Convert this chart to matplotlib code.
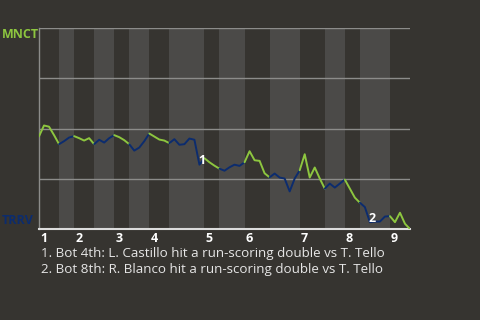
import matplotlib
matplotlib.use("Agg")
import matplotlib.pyplot as plt
import matplotlib.transforms as mtransforms

# ---- data ----
# MNCT win probability (%) after each play
win_prob = [46.1, 51.5, 50.9, 46.7, 42.2, 43.7, 45.5, 46.2, 45.2, 44.0,
            45.2, 42.2, 44.4, 43.0, 45.2, 46.7, 45.7, 44.2, 42.2, 39.0,
            40.5, 43.7, 47.5, 46.0, 44.5, 44.0, 42.7, 44.7, 41.9, 42.2,
            45.0, 44.4, 32.0, 35.2, 33.2, 31.5, 30.0, 29.0, 30.7, 32.0,
            31.4, 33.2, 38.7, 34.2, 33.9, 27.7, 25.7, 27.6, 25.6, 25.1,
            18.7, 25.1, 29.2, 37.2, 25.6, 30.6, 25.1, 20.1, 22.6, 20.6,
            22.6, 24.6, 20.1, 15.6, 13.1, 10.9, 3.4, 3.7, 3.7, 6.2,
            6.4, 3.4, 8.1, 2.6, 0.0]
# play index where each half inning starts (top 1st ... top 9th) plus end
half_starts = [0, 4, 7, 11, 15, 18, 22, 26, 33, 36, 41, 46, 52, 57, 61, 64, 70, 74]
inning_labels = ["1", "2", "3", "4", "5", "6", "7", "8", "9"]
away_team = "MNCT"
home_team = "TRRV"
notes = ["1. Bot 4th: L. Castillo hit a run-scoring double vs T. Tello",
         "2. Bot 8th: R. Blanco hit a run-scoring double vs T. Tello"]
note_plays = [32, 66]
note_marks = ["1", "2"]

BG = "#363430"
BAND = "#4b4a48"
GREEN = "#8dc63f"
BLUE = "#0c2c6e"
GRID = "#8c8c8a"

plt.rcParams['font.family'] = ['Open Sans', 'DejaVu Sans']

fig = plt.figure(figsize=(4.8, 3.2), dpi=100, facecolor=BG)
ax = fig.add_axes([39/480, 91/320, 371/480, 201/320])
ax.set_facecolor(BG)
n_last = len(win_prob) - 1
ax.set_xlim(0, n_last)
ax.set_ylim(0, 100)

# bottom-half shading
for i in range(1, len(half_starts) - 1, 2):
    ax.axvspan(half_starts[i], half_starts[i + 1], color=BAND, lw=0, zorder=0)

# gridlines
for g in [25, 50, 75, 100]:
    ax.axhline(g, color=GRID, lw=1.0, zorder=1)

# colored line per half inning
xs = list(range(len(win_prob)))
for i in range(len(half_starts) - 1):
    lo, hi = half_starts[i], half_starts[i + 1]
    color = GREEN if i % 2 == 0 else BLUE
    ax.plot(xs[lo:hi + 1], win_prob[lo:hi + 1], color=color, lw=1.4,
            solid_capstyle='round', solid_joinstyle='round', zorder=3)

# annotations
for p, m in zip(note_plays, note_marks):
    ax.text(p + 0.5, win_prob[p] + 2.0, m, color="white", fontsize=9,
            fontweight='bold', ha='center', va='center', zorder=4)

# spines
for s in ['top', 'right']:
    ax.spines[s].set_visible(False)
ax.spines['left'].set_color(GRID)
ax.spines['left'].set_linewidth(1.0)
ax.spines['bottom'].set_color("#dcdcdc")
ax.spines['bottom'].set_linewidth(1.5)
ax.set_xticks([])
ax.set_yticks([])

# inning labels
trans = mtransforms.blended_transform_factory(ax.transData, ax.transAxes)
for k, lab in enumerate(inning_labels):
    ax.text(half_starts[2 * k] + 0.2, -0.047, lab, transform=trans, color="white",
            fontsize=9, fontweight='bold', ha='left', va='center')

# team labels
fig.text(2/480, 1 - 35/320, away_team, color=GREEN, fontsize=9,
         fontweight='bold', ha='left', va='center')
fig.text(2/480, 1 - 221/320, home_team, color=BLUE, fontsize=9,
         fontweight='bold', ha='left', va='center')

# notes
for j, t in enumerate(notes):
    fig.text(41/480, 1 - (254 + 16 * j)/320, t, color="#e6e6e6", fontsize=9.6,
             ha='left', va='center')

fig.savefig("out.png", dpi=100, facecolor=BG)
